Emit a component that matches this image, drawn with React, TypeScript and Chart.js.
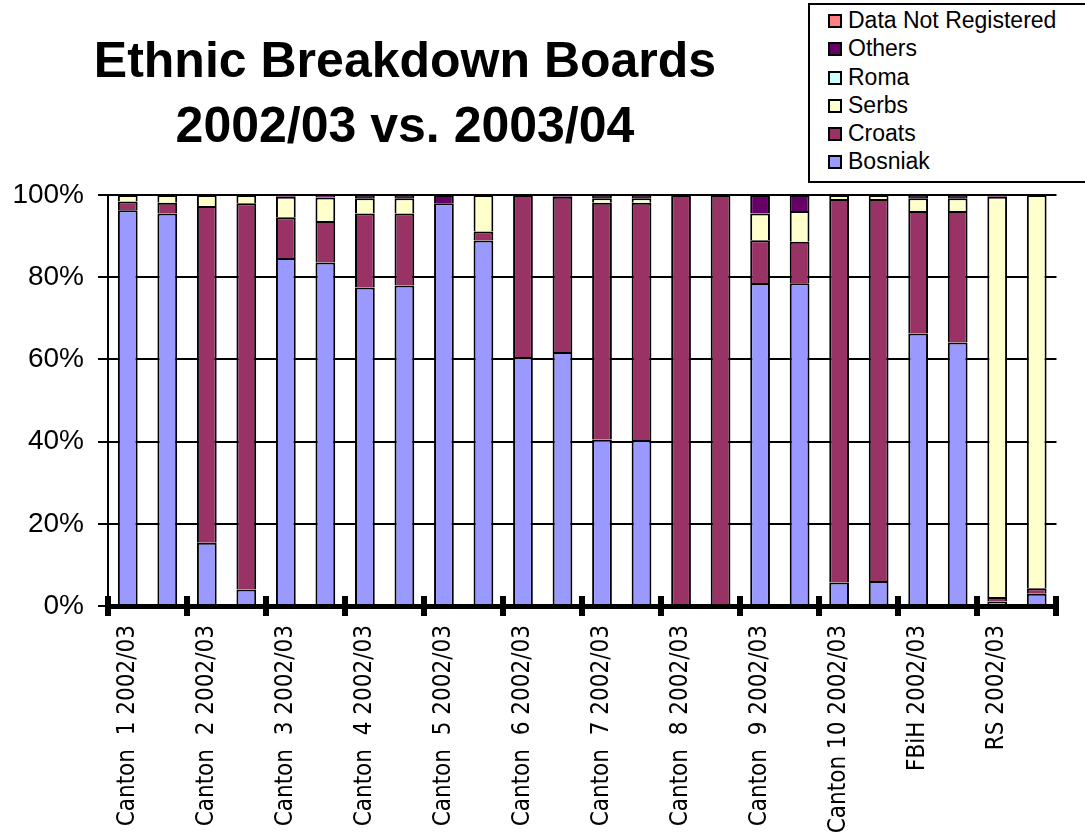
import React, { useEffect, useRef } from "react";
import { Chart, registerables } from "chart.js";

Chart.register(...registerables);

const titleLines = ["Ethnic Breakdown Boards", "2002/03 vs. 2003/04"];

const categoryLabels = [
  "Canton  1 2002/03", "",
  "Canton  2 2002/03", "",
  "Canton  3 2002/03", "",
  "Canton  4 2002/03", "",
  "Canton  5 2002/03", "",
  "Canton  6 2002/03", "",
  "Canton  7 2002/03", "",
  "Canton  8 2002/03", "",
  "Canton  9 2002/03", "",
  "Canton 10 2002/03", "",
  "FBiH 2002/03", "",
  "RS 2002/03", "",
];

const bosniak = [96.3, 95.5, 15.4, 4.0, 84.7, 83.6, 77.5, 78.0, 98.0, 88.9, 60.6, 61.8, 40.5, 40.4, 0, 0, 78.6, 78.5, 5.7, 6.1, 66.3, 64.1, 1.1, 3.0];
const croats = [2.1, 2.6, 81.9, 94.0, 9.9, 10.1, 18.0, 17.5, 0, 2.2, 39.4, 37.8, 57.6, 57.7, 100, 100, 10.4, 10.1, 93.3, 92.9, 29.8, 32.0, 1.1, 1.3];
const serbs = [1.6, 1.9, 2.7, 2.0, 5.0, 5.7, 3.7, 3.7, 0, 8.9, 0, 0, 1.1, 1.1, 0, 0, 6.5, 7.5, 1.0, 1.0, 3.1, 3.1, 97.4, 95.7];
const roma = [0, 0, 0, 0, 0, 0, 0, 0, 0, 0, 0, 0, 0, 0, 0, 0, 0, 0, 0, 0, 0, 0, 0, 0];
const others = [0, 0, 0, 0, 0.4, 0.6, 0.8, 0.8, 2.0, 0, 0, 0.4, 0.8, 0.8, 0, 0, 4.5, 3.9, 0, 0, 0.8, 0.8, 0.4, 0];
const notRegistered = [0, 0, 0, 0, 0, 0, 0, 0, 0, 0, 0, 0, 0, 0, 0, 0, 0, 0, 0, 0, 0, 0, 0, 0];

const seriesNames = ["Bosniak", "Croats", "Serbs", "Roma", "Others", "Data Not Registered"];
const seriesColors = ["#9999FF", "#993366", "#FFFFCC", "#CCFFFF", "#660066", "#FF8080"];
const seriesValues = [bosniak, croats, serbs, roma, others, notRegistered];

const yTicks = [0, 20, 40, 60, 80, 100];

const crossTicks = {
  id: "crossTicks",
  afterDraw(chart: any) {
    const xs = chart.scales.x;
    const ctx = chart.ctx;
    const n = chart.data.labels.length;
    const step = (xs.right - xs.left) / n;
    const y0 = chart.chartArea.bottom;
    ctx.save();
    ctx.fillStyle = "#000";
    for (let i = 0; i <= n; i += 2) {
      const x = xs.getPixelForValue(Math.min(i, n - 1)) + (i === n ? step / 2 : -step / 2);
      ctx.fillRect(Math.round(x) - 3, y0 - 10, 6, 20);
    }
    ctx.restore();
  },
};

export default function App() {
  const ref = useRef<HTMLCanvasElement | null>(null);

  useEffect(() => {
    if (!ref.current) return;
    const chart = new Chart(ref.current, {
      type: "bar",
      data: {
        labels: categoryLabels,
        datasets: seriesNames.map((name, i) => ({
          label: name,
          data: seriesValues[i].map((v) => (v ? v : null)),
          backgroundColor: seriesColors[i],
          borderColor: "#000",
          borderWidth: 2,
          barPercentage: 0.5,
          categoryPercentage: 1,
        })),
      },
      options: {
        responsive: false,
        animation: false,
        layout: { padding: { left: 0, right: 23, top: 195, bottom: 0 } },
        plugins: {
          legend: { display: false },
          title: { display: false },
          tooltip: { enabled: false },
        },
        scales: {
          x: {
            stacked: true,
            grid: { display: true, drawOnChartArea: false, drawTicks: false },
            border: { display: true, width: 5, color: "#000", z: 1 },
            ticks: {
              autoSkip: false,
              maxRotation: 90,
              minRotation: 90,
              padding: 19,
              color: "#000",
              font: { family: "'Liberation Sans Narrow', 'DejaVu Sans Condensed', 'Liberation Sans', sans-serif", size: 24 },
            },
            afterFit(scale: any) {
              scale.height = 229;
            },
          },
          y: {
            stacked: true,
            min: 0,
            max: 100,
            afterBuildTicks(scale: any) {
              scale.ticks = yTicks.map((v) => ({ value: v }));
            },
            grid: { color: "#000", lineWidth: 2, tickLength: 10, drawTicks: true },
            border: { display: true, width: 2, color: "#000" },
            ticks: {
              padding: 14,
              color: "#000",
              font: { family: "'Liberation Sans', Arial, sans-serif", size: 28 },
              callback: (v: any) => `${v}%`,
            },
            afterFit(scale: any) {
              scale.width = 108;
            },
          },
        },
      },
      plugins: [crossTicks],
    });
    return () => chart.destroy();
  }, []);

  return (
    <div style={{ position: "absolute", left: 0, top: 0, width: 1085, height: 835, background: "#fff", overflow: "hidden" }}>
      <canvas ref={ref} width={1085} height={835} style={{ position: "absolute", left: 0, top: 0, width: 1085, height: 835 }} />
      <div
        style={{
          position: "absolute",
          left: 0,
          top: 28,
          width: 810,
          textAlign: "center",
          fontFamily: "'Liberation Sans', Arial, sans-serif",
          fontWeight: "bold",
          fontSize: 50,
          lineHeight: "65px",
          color: "#000",
        }}
      >
        {titleLines.map((t) => (
          <div key={t}>{t}</div>
        ))}
      </div>
      <div
        style={{
          position: "absolute",
          left: 808,
          top: 3,
          width: 282,
          height: 180,
          boxSizing: "border-box",
          border: "2px solid #000",
          background: "#fff",
          paddingTop: 1,
          paddingLeft: 18,
          fontFamily: "'Liberation Sans', Arial, sans-serif",
          fontSize: 23,
          lineHeight: "28.3px",
          color: "#000",
          whiteSpace: "nowrap",
        }}
      >
        {seriesNames
          .map((name, i) => ({ name, color: seriesColors[i] }))
          .reverse()
          .map((item) => (
            <div key={item.name}>
              <span
                style={{
                  display: "inline-block",
                  width: 14,
                  height: 14,
                  boxSizing: "border-box",
                  border: "2px solid #000",
                  background: item.color,
                  marginRight: 6,
                  verticalAlign: "baseline",
                }}
              />
              {item.name}
            </div>
          ))}
      </div>
    </div>
  );
}
